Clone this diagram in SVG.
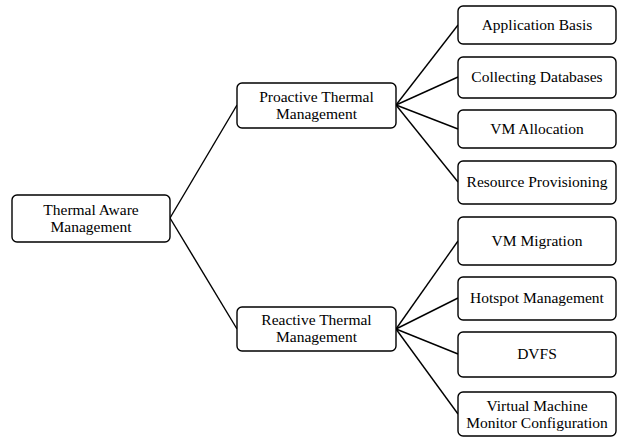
<svg xmlns="http://www.w3.org/2000/svg" width="617" height="438" viewBox="0 0 617 438">
<style>
.box{fill:#fff;stroke:#000;stroke-width:1.4}
.c line{stroke:#000;stroke-width:1.4}
</style>
<rect width="617" height="438" fill="#fff"/>
<g class="c" id="connectors">
<line x1="170" y1="218" x2="237" y2="105"/>
<line x1="170" y1="218" x2="237" y2="329"/>
<line x1="396" y1="105" x2="458" y2="25"/>
<line x1="396" y1="105" x2="458" y2="77"/>
<line x1="396" y1="105" x2="458" y2="129"/>
<line x1="396" y1="105" x2="458" y2="182"/>
<line x1="396" y1="329" x2="458" y2="241"/>
<line x1="396" y1="329" x2="458" y2="298"/>
<line x1="396" y1="329" x2="458" y2="354"/>
<line x1="396" y1="329" x2="458" y2="414"/>
</g>
<g font-family="Liberation Serif, serif" font-size="15.5" text-anchor="middle" fill="#000">
<g id="root"><rect class="box" x="12" y="195" width="158" height="47" rx="5"/><text x="91" y="215">Thermal Aware</text><text x="91" y="232">Management</text></g>
<g id="proactive"><rect class="box" x="237" y="83" width="159" height="45" rx="5"/><text x="316.5" y="102">Proactive Thermal</text><text x="316.5" y="119">Management</text></g>
<g id="reactive"><rect class="box" x="237" y="307" width="159" height="44" rx="5"/><text x="316.5" y="325">Reactive Thermal</text><text x="316.5" y="342">Management</text></g>
<g id="app"><rect class="box" x="458" y="6" width="158" height="38" rx="5"/><text x="537" y="30">Application Basis</text></g>
<g id="collect"><rect class="box" x="458" y="57" width="158" height="41" rx="5"/><text x="537" y="82">Collecting Databases</text></g>
<g id="vmalloc"><rect class="box" x="458" y="110" width="158" height="38" rx="5"/><text x="537" y="134">VM Allocation</text></g>
<g id="resprov"><rect class="box" x="458" y="161" width="158" height="43" rx="5"/><text x="537" y="187">Resource Provisioning</text></g>
<g id="vmmig"><rect class="box" x="458" y="217" width="158" height="48" rx="5"/><text x="537" y="246">VM Migration</text></g>
<g id="hotspot"><rect class="box" x="458" y="277" width="158" height="43" rx="5"/><text x="537" y="303">Hotspot Management</text></g>
<g id="dvfs"><rect class="box" x="458" y="332" width="158" height="45" rx="5"/><text x="537" y="359">DVFS</text></g>
<g id="vmm"><rect class="box" x="458" y="392" width="158" height="44" rx="5"/><text x="537" y="411">Virtual Machine</text><text x="537" y="428">Monitor Configuration</text></g>
</g>
</svg>
